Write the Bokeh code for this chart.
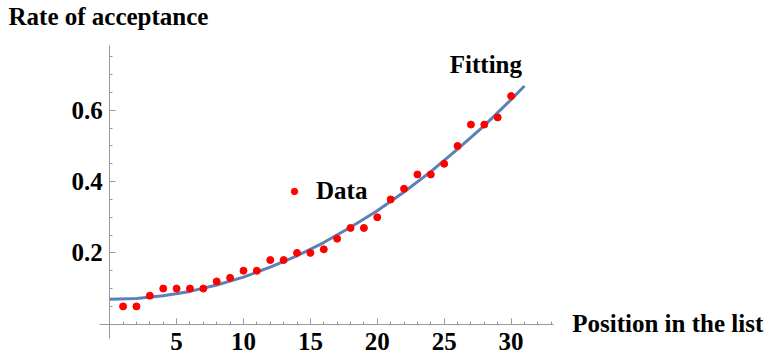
from bokeh.plotting import figure
from bokeh.models import (LinearAxis, FixedTicker, Range1d, Label, Legend,
                          LegendItem)
from bokeh.embed import file_html
from bokeh.resources import INLINE

# ---------------- data ----------------
position = list(range(1, 31))
acceptance = [0.05, 0.05, 0.08, 0.10, 0.10, 0.10, 0.10, 0.12, 0.13, 0.15,
              0.15, 0.18, 0.18, 0.20, 0.20, 0.21, 0.24, 0.27, 0.27, 0.30,
              0.35, 0.38, 0.42, 0.42, 0.45, 0.50, 0.56, 0.56, 0.58, 0.64]

fit_x = [0, 2, 4, 6, 8, 10, 12, 14, 16, 18, 20, 22, 24, 26, 28, 30, 31]
fit_y = [0.070, 0.072, 0.080, 0.092, 0.110, 0.132, 0.160, 0.192, 0.229,
         0.272, 0.318, 0.371, 0.428, 0.491, 0.557, 0.630, 0.668]

x_major = [5, 10, 15, 20, 25, 30]
x_tick_labels = ["5", "10", "15", "20", "25", "30"]
x_minor = list(range(1, 34))
y_major = [0.2, 0.4, 0.6]
y_tick_labels = ["0.2", "0.4", "0.6"]
y_minor = [0.05, 0.10, 0.15, 0.20, 0.25, 0.30, 0.35, 0.40, 0.45, 0.50,
           0.55, 0.60, 0.65, 0.70, 0.75]

FONT = "Liberation Serif"
AXIS_COLOR = "#999999"

p = figure(width=764, height=358, output_backend="svg", toolbar_location=None,
           x_range=Range1d(-8.161, 48.94), y_range=Range1d(-0.0962, 0.9080),
           x_axis_location=None, y_axis_location=None, min_border=0,
           outline_line_color=None)
p.grid.visible = False


def style_axis(ax):
    ax.axis_line_color = AXIS_COLOR
    ax.major_tick_line_color = AXIS_COLOR
    ax.minor_tick_line_color = AXIS_COLOR
    ax.major_tick_in = 6
    ax.major_tick_out = 0
    ax.minor_tick_in = 3
    ax.minor_tick_out = 0
    ax.major_label_text_font = FONT
    ax.major_label_text_font_style = "bold"
    ax.major_label_text_font_size = "25px"
    ax.major_label_text_color = "black"


xaxis = LinearAxis(fixed_location=0,
                   ticker=FixedTicker(ticks=x_major, minor_ticks=x_minor),
                   bounds=(-0.74, 33.17),
                   major_label_overrides=dict(zip(x_major, x_tick_labels)),
                   major_label_standoff=9)
style_axis(xaxis)
p.add_layout(xaxis, "below")

yaxis = LinearAxis(fixed_location=0,
                   ticker=FixedTicker(ticks=y_major, minor_ticks=y_minor),
                   bounds=(-0.04, 0.782),
                   major_label_overrides=dict(zip(y_major, y_tick_labels)),
                   major_label_standoff=7)
style_axis(yaxis)
p.add_layout(yaxis, "left")

p.line(fit_x, fit_y, line_color="#5E81B5", line_width=3)
pts = p.scatter(position, acceptance, size=7, fill_color="red",
                line_color="red")

legend = Legend(items=[LegendItem(label="Data", renderers=[pts])],
                location=(286, 152.7), padding=0, margin=0, spacing=0,
                glyph_width=16, glyph_height=28, label_height=28,
                label_standoff=14, border_line_color=None,
                background_fill_alpha=0,
                label_text_font=FONT, label_text_font_style="bold",
                label_text_font_size="25px", label_text_color="black")
p.add_layout(legend)


def add_label(x, y, text):
    p.add_layout(Label(x=x, y=y, text=text, text_font=FONT,
                       text_font_style="bold", text_font_size="25px",
                       text_color="black", text_align="left",
                       text_baseline="middle"))


add_label(-7.563, 0.8640, "Rate of acceptance")
add_label(34.57, 0.003, "Position in the list")
add_label(25.42, 0.729, "Fitting")

open("out.html", "w").write(file_html(p, INLINE))
